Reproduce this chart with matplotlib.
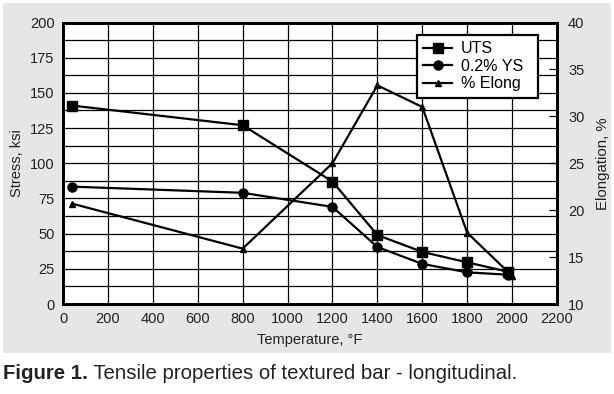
import matplotlib
matplotlib.use("Agg")
import matplotlib.pyplot as plt
from matplotlib.patches import Rectangle
from matplotlib.ticker import MultipleLocator

plt.rcParams['font.family'] = ['Liberation Sans', 'DejaVu Sans']

# Data
temp_uts = [40, 800, 1200, 1400, 1600, 1800, 1980]
uts = [141, 127, 87, 49, 37, 29.6, 23]
temp_ys = [40, 800, 1200, 1400, 1600, 1800, 1980]
ys = [83.4, 79, 69, 40.5, 28.5, 22.5, 20.8]
temp_el = [40, 800, 1200, 1400, 1600, 1800, 2000]
elong = [20.7, 15.9, 25.0, 33.3, 31.0, 17.6, 13.0]

x_ticks = list(range(0, 2201, 200))
y_ticks = list(range(0, 201, 25))
y2_ticks = list(range(10, 41, 5))

fig = plt.figure(figsize=(6.14, 3.94), dpi=100)
fig.patch.set_facecolor('white')

# grey panel behind the chart
fig.patches.append(Rectangle((3 / 614, 1 - 353 / 394), 608 / 614, 350 / 394,
                             transform=fig.transFigure, facecolor='#e6e6e6',
                             edgecolor='none', zorder=-10))

ax = fig.add_axes([63 / 614, 1 - 304 / 394, 494 / 614, 281.5 / 394])
ax.set_facecolor('white')
ax2 = ax.twinx()

h1, = ax.plot(temp_uts, uts, 'k-', marker='s', ms=6.5, lw=1.6, label='UTS')
h2, = ax.plot(temp_ys, ys, 'k-', marker='o', ms=6.5, lw=1.6, label='0.2% YS')
h3, = ax2.plot(temp_el, elong, 'k-', marker='^', ms=5, lw=1.6, label='% Elong')

ax.set_xlim(0, 2200)
ax.set_ylim(0, 200)
ax2.set_ylim(10, 40)
ax.set_xticks(x_ticks)
ax.set_yticks(y_ticks)
ax2.set_yticks(y2_ticks)
ax.yaxis.set_minor_locator(MultipleLocator(12.5))

ax.grid(True, which='major', color='black', lw=0.9)
ax.grid(True, which='minor', axis='y', color='black', lw=0.9)
ax.set_axisbelow(True)

ax.tick_params(axis='both', which='both', length=0, labelsize=10.5, colors='#222222', pad=6)
ax2.tick_params(axis='y', direction='in', length=6, width=0.9, labelsize=10.5,
                colors='black', labelcolor='#222222', pad=8)

for a in (ax, ax2):
    for s in a.spines.values():
        s.set_linewidth(2)
        s.set_color('black')

ax.set_xlabel('Temperature, °F', fontsize=10.5, color='#222222', labelpad=5)
ax.set_ylabel('Stress, ksi', fontsize=10.5, color='#222222', labelpad=4)
ax2.set_ylabel('Elongation, %', fontsize=10.8, color='#222222', labelpad=8)

leg = ax2.legend(handles=[h1, h2, h3], loc='upper left', mode='expand',
                 bbox_to_anchor=(417 / 614, 1 - 97 / 394, 121 / 614, 62 / 394),
                 bbox_transform=fig.transFigure,
                 fontsize=11.5, frameon=True, fancybox=False, framealpha=1,
                 handlelength=1.8, handletextpad=0.55, borderpad=0.4,
                 labelspacing=0.15, borderaxespad=0)
leg.get_frame().set_edgecolor('black')
leg.get_frame().set_linewidth(1.6)

cap = fig.text(3 / 614, 1 - 383 / 394, 'Figure 1.', fontsize=14.7, fontweight='bold',
               color='#222222', va='bottom')
ax.annotate(' Tensile properties of textured bar - longitudinal.', xy=(1, 0),
            xycoords=cap, va='bottom', ha='left', fontsize=14.7, color='#222222',
            annotation_clip=False)

fig.savefig('out.png', dpi=100)
